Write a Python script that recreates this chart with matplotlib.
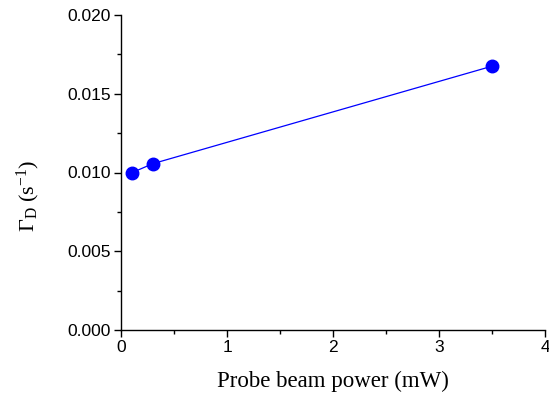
import matplotlib
matplotlib.use("Agg")
import matplotlib.pyplot as plt
from matplotlib.ticker import MultipleLocator

power_mW = [0.1, 0.3, 3.5]
gamma_D = [0.00998, 0.01056, 0.01675]

xticks = [0, 1, 2, 3, 4]
yticks = [0.000, 0.005, 0.010, 0.015, 0.020]
ytick_labels = ["0.000", "0.005", "0.010", "0.015", "0.020"]

fig = plt.figure(figsize=(5.49, 3.98), dpi=100)
ax = fig.add_axes([121/549, 1 - 330/398, (545-121)/549, (330-15)/398])

ax.plot(power_mW, gamma_D, color="blue", lw=0.9, marker="o", ms=9,
        markerfacecolor="blue", markeredgecolor="blue")

ax.set_xlim(0, 4)
ax.set_ylim(0, 0.020)
ax.set_xticks(xticks)
ax.set_xticklabels([str(v) for v in xticks])
ax.set_yticks(yticks)
ax.set_yticklabels(ytick_labels)
ax.xaxis.set_minor_locator(MultipleLocator(0.5))
ax.yaxis.set_minor_locator(MultipleLocator(0.0025))

for s in ["top", "right"]:
    ax.spines[s].set_visible(False)
for s in ["left", "bottom"]:
    ax.spines[s].set_linewidth(1.0)

ax.tick_params(which="major", direction="out", length=5, width=1.0,
               labelsize=12.5, pad=2.5)
ax.tick_params(which="minor", direction="out", length=3, width=1.0)
for lbl in ax.get_xticklabels() + ax.get_yticklabels():
    lbl.set_fontfamily("Liberation Sans")

ax.set_xlabel("Probe beam power (mW)", fontfamily="Liberation Serif",
              fontsize=16.5, va="baseline")
ax.xaxis.set_label_coords(0.5, (330 - 387) / 315)
ax.set_ylabel(r"$\mathregular{\Gamma_D}$ (s$\mathregular{^{-1}}$)",
              fontfamily="Liberation Serif", fontsize=16, va="center",
              ha="center")
ax.yaxis.set_label_coords((28 - 121) / 424, (330 - 196) / 315)

fig.savefig("out.png", dpi=100)
